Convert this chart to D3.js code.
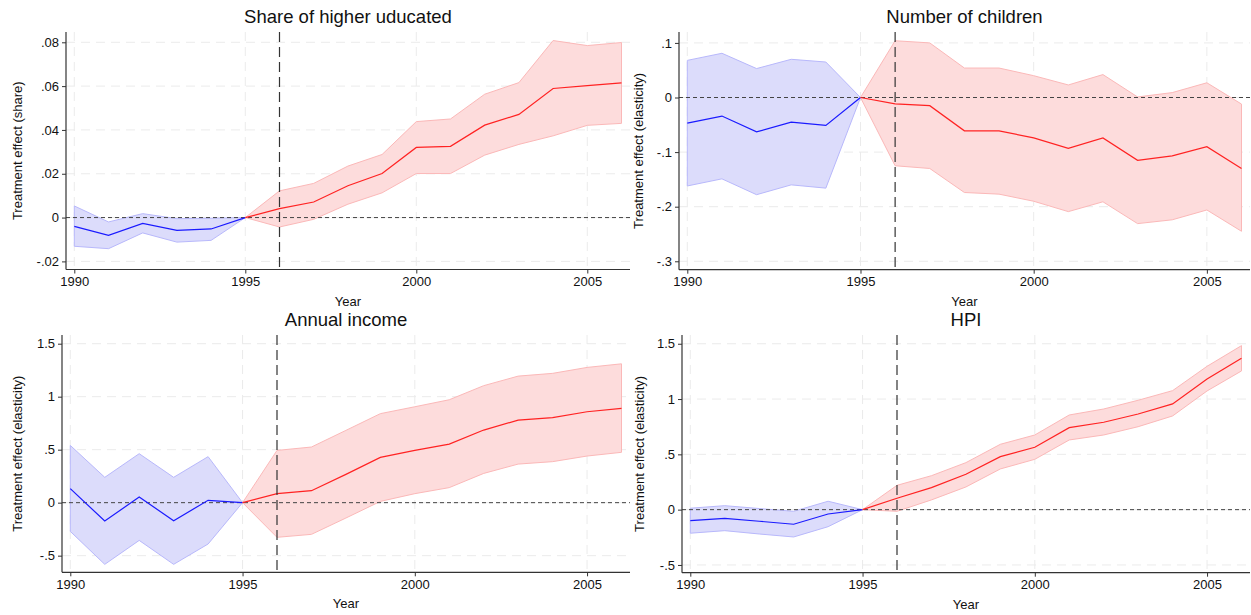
<!DOCTYPE html>
<html>
<head>
<meta charset="utf-8">
<script src="https://cdn.jsdelivr.net/npm/d3@7"></script>
<style>
  body { margin: 0; background: #fff; }
  svg { display: block; font-family: "Liberation Sans", Arial, sans-serif; }
</style>
</head>
<body>
<svg id="chart" width="1251" height="615"></svg>
<script>
// years of the event study
var years = [1990, 1991, 1992, 1993, 1994, 1995, 1996, 1997, 1998, 1999, 2000, 2001, 2002, 2003, 2004, 2005, 2006];
var xTicks = [1990, 1995, 2000, 2005];
var treatYear = 1996;
var baseYear = 1995;

// Share of higher educated
var eduEst = [-0.0040, -0.0081, -0.0027, -0.0058, -0.0052, 0, 0.0041, 0.0071, 0.0145, 0.0201, 0.0320, 0.0325, 0.0422, 0.0471, 0.0589, 0.0602, 0.0615];
var eduLo  = [-0.0131, -0.0142, -0.0070, -0.0112, -0.0104, 0, -0.0043, -0.0008, 0.0061, 0.0113, 0.0201, 0.0201, 0.0285, 0.0334, 0.0373, 0.0421, 0.0430];
var eduHi  = [0.0053, -0.0020, 0.0018, -0.0005, -0.0003, 0, 0.0122, 0.0156, 0.0235, 0.0288, 0.0438, 0.0450, 0.0563, 0.0616, 0.0808, 0.0785, 0.0799];
var eduTicks = [-0.02, 0, 0.02, 0.04, 0.06, 0.08];

// Number of children
var kidEst = [-0.047, -0.034, -0.063, -0.045, -0.051, 0, -0.0115, -0.015, -0.061, -0.061, -0.074, -0.093, -0.074, -0.115, -0.107, -0.090, -0.130];
var kidLo  = [-0.162, -0.149, -0.178, -0.160, -0.166, 0, -0.125, -0.130, -0.174, -0.177, -0.190, -0.209, -0.191, -0.231, -0.224, -0.206, -0.245];
var kidHi  = [0.068, 0.081, 0.053, 0.070, 0.065, 0, 0.104, 0.100, 0.054, 0.054, 0.040, 0.023, 0.042, 0.001, 0.009, 0.027, -0.012];
var kidTicks = [-0.3, -0.2, -0.1, 0, 0.1];

// Annual income
var incEst = [0.132, -0.173, 0.053, -0.170, 0.022, 0, 0.085, 0.113, 0.267, 0.427, 0.493, 0.553, 0.685, 0.779, 0.802, 0.858, 0.890];
var incLo  = [-0.271, -0.582, -0.356, -0.582, -0.390, 0, -0.327, -0.299, -0.145, 0.012, 0.085, 0.142, 0.276, 0.364, 0.387, 0.440, 0.475];
var incHi  = [0.540, 0.239, 0.462, 0.239, 0.434, 0, 0.493, 0.525, 0.682, 0.840, 0.905, 0.971, 1.104, 1.194, 1.220, 1.276, 1.310];
var incTicks = [-0.5, 0, 0.5, 1, 1.5];

// HPI
var hpiEst = [-0.099, -0.078, -0.105, -0.132, -0.039, 0, 0.103, 0.199, 0.320, 0.479, 0.564, 0.741, 0.790, 0.865, 0.956, 1.182, 1.369];
var hpiLo  = [-0.213, -0.190, -0.220, -0.247, -0.154, 0, -0.015, 0.088, 0.205, 0.368, 0.455, 0.630, 0.675, 0.750, 0.847, 1.073, 1.254];
var hpiHi  = [0.013, 0.036, 0.010, -0.015, 0.076, 0, 0.220, 0.307, 0.425, 0.591, 0.675, 0.856, 0.910, 0.989, 1.076, 1.296, 1.483];
var hpiTicks = [-0.5, 0, 0.5, 1, 1.5];

var svg = d3.select("#chart");

// stata style labels: .08, -.02, 1.5
function stataFmt(v) {
  var s = String(+v.toFixed(4));
  return s.replace(/^0\./, ".").replace(/^-0\./, "-.");
}

function drawPanel(p) {
  var x = d3.scaleLinear().domain([1990, 2006]).range([p.left + 8.3, p.right - 8.5]);
  var y = d3.scaleLinear().domain(p.yDom).range([p.bottom, p.top]);
  var g = svg.append("g");

  // grid
  g.selectAll(".hg").data(p.ticks).enter().append("line")
    .attr("x1", p.left).attr("x2", p.right)
    .attr("y1", function(d){ return y(d); }).attr("y2", function(d){ return y(d); })
    .attr("stroke", "#ebebeb").attr("stroke-width", 1).attr("stroke-dasharray", "9,6");
  g.selectAll(".vg").data(xTicks).enter().append("line")
    .attr("x1", function(d){ return x(d); }).attr("x2", function(d){ return x(d); })
    .attr("y1", p.top).attr("y2", p.bottom)
    .attr("stroke", "#ebebeb").attr("stroke-width", 1).attr("stroke-dasharray", "9,6");

  var rows = years.map(function(yr, i){ return {yr: yr, est: p.est[i], lo: p.lo[i], hi: p.hi[i]}; });
  var pre = rows.filter(function(d){ return d.yr <= baseYear; });
  var post = rows.filter(function(d){ return d.yr >= baseYear; });

  var area = d3.area().x(function(d){ return x(d.yr); })
    .y0(function(d){ return y(d.lo); }).y1(function(d){ return y(d.hi); });
  var line = d3.line().x(function(d){ return x(d.yr); }).y(function(d){ return y(d.est); });

  g.append("path").datum(pre).attr("d", area)
    .attr("fill", "#dcdcfb").attr("stroke", "#b8b8fb").attr("stroke-width", 1);
  g.append("path").datum(post).attr("d", area)
    .attr("fill", "#fddcdc").attr("stroke", "#fbb8b8").attr("stroke-width", 1);

  // zero reference
  g.append("line").attr("x1", p.left).attr("x2", p.right)
    .attr("y1", y(0)).attr("y2", y(0))
    .attr("stroke", "#444").attr("stroke-width", 1).attr("stroke-dasharray", "4,3");

  g.append("path").datum(pre).attr("d", line)
    .attr("fill", "none").attr("stroke", "#1a1aff").attr("stroke-width", 1.2);
  g.append("path").datum(post).attr("d", line)
    .attr("fill", "none").attr("stroke", "#ff2222").attr("stroke-width", 1.2);

  // treatment year
  g.append("line").attr("x1", x(treatYear)).attr("x2", x(treatYear))
    .attr("y1", p.top).attr("y2", p.bottom)
    .attr("stroke", "#333").attr("stroke-width", 1.2).attr("stroke-dasharray", "10,5");

  // axes
  var yAxis = d3.axisLeft(y).tickValues(p.ticks).tickSize(4).tickPadding(3).tickFormat(stataFmt);
  var xAxis = d3.axisBottom(x).tickValues(xTicks).tickSize(4).tickPadding(3).tickFormat(d3.format("d"));

  var ya = g.append("g").attr("transform", "translate(" + p.left + ",0)").call(yAxis);
  ya.select(".domain").attr("d", "M0," + p.top + "V" + p.bottom);
  var xa = g.append("g").attr("transform", "translate(0," + p.bottom + ")").call(xAxis);
  xa.select(".domain").attr("d", "M" + p.left + ",0H" + p.right);
  [ya, xa].forEach(function(a){
    a.selectAll(".domain").attr("stroke", "#333").attr("stroke-width", 1.2);
    a.selectAll(".tick line").attr("stroke", "#333");
    a.selectAll("text").attr("fill", "#111").style("font-size", "13px")
      .style("font-family", "'Liberation Sans', Arial, sans-serif");
  });

  // titles
  var cx = (p.left + p.right) / 2;
  g.append("text").attr("x", cx).attr("y", p.top - 9).attr("text-anchor", "middle")
    .style("font-size", "18.5px").attr("fill", "#111").text(p.title);
  g.append("text").attr("x", cx).attr("y", p.bottom + 36).attr("text-anchor", "middle")
    .style("font-size", "13px").attr("fill", "#111").text("Year");
  g.append("text")
    .attr("transform", "translate(" + p.ylabX + "," + ((p.top + p.bottom) / 2) + ") rotate(-90)")
    .attr("text-anchor", "middle").attr("dy", "0.35em")
    .style("font-size", "13px").attr("fill", "#111").text(p.ylab);
}

drawPanel({title: "Share of higher uducated", ylab: "Treatment effect (share)",
  est: eduEst, lo: eduLo, hi: eduHi, ticks: eduTicks, yDom: [-0.0237, 0.0847],
  left: 66, right: 630, top: 32, bottom: 269.5, ylabX: 17});
drawPanel({title: "Number of children", ylab: "Treatment effect (elasticity)",
  est: kidEst, lo: kidLo, hi: kidHi, ticks: kidTicks, yDom: [-0.3154, 0.120],
  left: 679, right: 1250, top: 32, bottom: 269.7, ylabX: 638});
drawPanel({title: "Annual income", ylab: "Treatment effect (elasticity)",
  est: incEst, lo: incLo, hi: incHi, ticks: incTicks, yDom: [-0.657, 1.582],
  left: 62, right: 630, top: 335, bottom: 572.3, ylabX: 17});
drawPanel({title: "HPI", ylab: "Treatment effect (elasticity)",
  est: hpiEst, lo: hpiLo, hi: hpiHi, ticks: hpiTicks, yDom: [-0.570, 1.579],
  left: 682, right: 1250, top: 335, bottom: 572.7, ylabX: 639});
</script>
</body>
</html>
